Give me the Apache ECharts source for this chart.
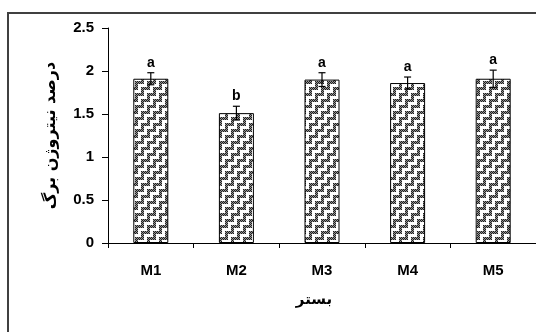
<!DOCTYPE html>
<html><head><meta charset="utf-8">
<script src="https://cdn.jsdelivr.net/npm/echarts@6/dist/echarts.min.js"></script>
<style>html,body{margin:0;padding:0;background:#fff}#c{width:536px;height:332px}</style>
</head><body><div id="c"></div>
<script>
const categories = ['M1', 'M2', 'M3', 'M4', 'M5'];
const means = [1.91, 1.51, 1.90, 1.86, 1.91];
const errors = [0.07, 0.08, 0.08, 0.07, 0.10];
const letters = ['a', 'b', 'a', 'a', 'a'];
const yTicks = [0, 0.5, 1, 1.5, 2, 2.5];
const yName = 'درصد نیتروژن برگ';
const xName = 'بستر';

// weave / herringbone-like pattern tile
const T = 12, B = 6;
const tile = document.createElement('canvas');
tile.width = T; tile.height = T;
const tctx = tile.getContext('2d');
const img = tctx.createImageData(T, T);
for (let y = 0; y < T; y++) {
  for (let x = 0; x < T; x++) {
    const band = Math.floor(((x - y + T) % T) / B);
    const white = band === 0 ? (x % B) < 3 : (y % B) < 3;
    const checker = (x + y) % 2 === 0;
    const v = white ? 255 : (checker ? 30 : 150);
    const i = (y * T + x) * 4;
    img.data[i] = v; img.data[i + 1] = v; img.data[i + 2] = v; img.data[i + 3] = 255;
  }
}
tctx.putImageData(img, 0, 0);

const chart = echarts.init(document.getElementById('c'), null, {renderer: 'canvas'});
const fontBold = {fontFamily: 'Liberation Sans, Arial, sans-serif', fontWeight: 'bold', color: '#000'};
chart.setOption({
  animation: false,
  backgroundColor: '#fff',
  graphic: [{
    type: 'rect', shape: {x: 8, y: 13, width: 540, height: 330},
    style: {fill: null, stroke: '#404040', lineWidth: 2}, z: -1
  }],
  grid: {left: 108, right: -4, top: 28, bottom: 89},
  xAxis: {
    type: 'category', data: categories,
    axisLine: {lineStyle: {color: '#000', width: 1}},
    axisTick: {show: true, length: 5, interval: 0, lineStyle: {color: '#000'}},
    axisLabel: Object.assign({fontSize: 15, margin: 20}, fontBold),
    name: xName, nameLocation: 'middle', nameGap: 50,
    nameTextStyle: {fontFamily: 'DejaVu Sans', fontWeight: 'bold', fontSize: 15, color: '#000', padding: [0, 16, 0, 0]}
  },
  yAxis: {
    type: 'value', min: yTicks[0], max: yTicks[yTicks.length - 1], interval: 0.5,
    splitLine: {show: false},
    axisLine: {show: true, lineStyle: {color: '#000', width: 1}},
    axisTick: {show: true, length: 6, lineStyle: {color: '#000'}},
    axisLabel: Object.assign({fontSize: 15, margin: 14}, fontBold),
    name: yName, nameLocation: 'middle', nameRotate: 90, nameGap: 49,
    nameTextStyle: {fontFamily: 'DejaVu Sans', fontWeight: 'bold', fontSize: 16, color: '#000'}
  },
  series: [{
    type: 'bar', data: means, barWidth: 35,
    itemStyle: {color: {image: tile, repeat: 'repeat'}, borderColor: '#000', borderWidth: 1}
  }, {
    type: 'custom',
    data: means.map((m, i) => [i, m, errors[i]]),
    renderItem: function (params, api) {
      const i = api.value(0), m = api.value(1), e = api.value(2);
      const hi = api.coord([i, m + e]);
      const lo = api.coord([i, m - e]);
      const cw = 3.5;
      const ls = {stroke: '#000', lineWidth: 1.2};
      return {type: 'group', children: [
        {type: 'line', shape: {x1: hi[0], y1: hi[1], x2: lo[0], y2: lo[1]}, style: ls},
        {type: 'line', shape: {x1: hi[0] - cw, y1: hi[1], x2: hi[0] + cw, y2: hi[1]}, style: ls},
        {type: 'line', shape: {x1: lo[0] - cw, y1: lo[1], x2: lo[0] + cw, y2: lo[1]}, style: ls},
        {type: 'text', style: {x: hi[0], y: hi[1] - 3, text: letters[params.dataIndex], align: 'center', verticalAlign: 'bottom',
          font: 'bold 14px "Liberation Sans", Arial, sans-serif', fill: '#000'}}
      ]};
    },
    z: 10
  }]
});
</script></body></html>
